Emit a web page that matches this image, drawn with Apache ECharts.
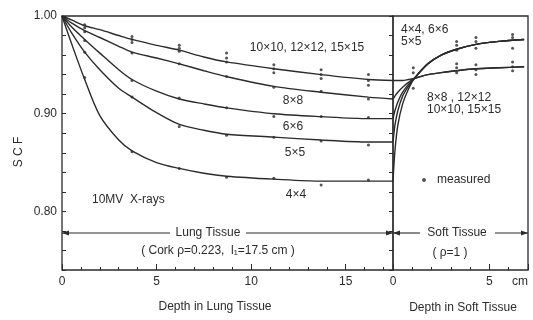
<!DOCTYPE html>
<html><head><meta charset="utf-8">
<script src="https://cdn.jsdelivr.net/npm/echarts@6/dist/echarts.min.js"></script>
<style>html,body{margin:0;padding:0;background:#fff}#c{width:533px;height:320px}</style>
</head><body><div id="c"></div>
<script>
// ---- Data ----
const lungDepth = [0, 0.5, 1.2, 2, 3, 3.7, 5, 6.2, 7.5, 8.7, 11.2, 13.7, 16.2, 17.5];
const lungLarge = [1.000, 0.996, 0.990, 0.986, 0.980, 0.976, 0.970, 0.965, 0.958, 0.953, 0.946, 0.940, 0.935, 0.934];
const lung8x8   = [1.000, 0.993, 0.985, 0.978, 0.969, 0.963, 0.957, 0.951, 0.944, 0.938, 0.928, 0.922, 0.917, 0.915];
const lung6x6   = [1.000, 0.989, 0.976, 0.962, 0.945, 0.935, 0.923, 0.915, 0.910, 0.906, 0.900, 0.897, 0.895, 0.895];
const lung5x5   = [1.000, 0.983, 0.963, 0.945, 0.926, 0.917, 0.901, 0.889, 0.883, 0.879, 0.876, 0.873, 0.871, 0.871];
const lung4x4   = [1.000, 0.972, 0.935, 0.898, 0.873, 0.862, 0.850, 0.844, 0.839, 0.836, 0.833, 0.831, 0.831, 0.831];

const softDepth = [0, 0.1, 0.25, 0.5, 0.8, 1.1, 1.8, 2.5, 3.3, 4.3, 5.5, 6.8];
const soft4x4   = [0.831, 0.862, 0.888, 0.910, 0.925, 0.936, 0.951, 0.960, 0.966, 0.971, 0.974, 0.976];
const soft5x5   = [0.871, 0.888, 0.903, 0.918, 0.928, 0.936, 0.951, 0.960, 0.966, 0.971, 0.974, 0.976];
const soft6x6   = [0.895, 0.903, 0.912, 0.922, 0.930, 0.936, 0.951, 0.960, 0.966, 0.971, 0.974, 0.976];
const soft8x8   = [0.915, 0.918, 0.922, 0.927, 0.932, 0.936, 0.940, 0.942, 0.944, 0.946, 0.947, 0.948];
const softLarge = [0.934, 0.934, 0.934, 0.934, 0.935, 0.936, 0.940, 0.942, 0.944, 0.946, 0.947, 0.948];

const lungMeasured = [
  [1.2,0.991],[1.2,0.988],[3.7,0.979],[3.7,0.976],[3.7,0.973],[6.2,0.970],[6.2,0.967],[6.2,0.964],
  [8.7,0.962],[8.7,0.957],[8.7,0.953],[11.2,0.950],[11.2,0.946],[11.2,0.942],[13.7,0.945],[13.7,0.940],[13.7,0.936],
  [16.2,0.940],[16.2,0.934],[16.2,0.929],
  [1.2,0.984],[3.7,0.962],[6.2,0.951],[8.7,0.938],[11.2,0.927],[13.7,0.923],[16.2,0.915],
  [1.2,0.975],[3.7,0.934],[6.2,0.916],[8.7,0.906],[11.2,0.897],[13.7,0.897],[16.2,0.896],
  [1.2,0.963],[3.7,0.917],[6.2,0.887],[8.7,0.878],[11.2,0.876],[13.7,0.872],[16.2,0.868],
  [1.2,0.937],[3.7,0.861],[6.2,0.844],[8.7,0.835],[11.2,0.834],[13.7,0.827],[16.2,0.832]
];
const softMeasured = [
  [1.05,0.947],[1.05,0.942],[1.05,0.926],
  [3.3,0.974],[3.3,0.970],[3.3,0.965],[3.3,0.951],[3.3,0.947],[3.3,0.942],
  [4.3,0.978],[4.3,0.974],[4.3,0.967],[4.3,0.950],[4.3,0.945],[4.3,0.940],
  [6.2,0.981],[6.2,0.978],[6.2,0.967],[6.2,0.953],[6.2,0.948],[6.2,0.944]
];

const yTickLabels = ['0.80', '0.90', '1.00'];
const lungTickLabels = ['0', '5', '10', '15'];
const softTickLabels = ['0', '5'];

// ---- Chart ----
const INK = '#2b2b2b';
const FONT = 'Liberation Sans, Arial, sans-serif';
const FS = 12;
const chart = echarts.init(document.getElementById('c'), null, {renderer: 'canvas'});

function pairs(xs, ys) { return xs.map((x, i) => [x, ys[i]]); }
function lineSeries(name, xi, yi, xs, ys) {
  return {name, type: 'line', xAxisIndex: xi, yAxisIndex: yi, data: pairs(xs, ys),
    smooth: 0.3, showSymbol: false, silent: true, z: 3,
    lineStyle: {color: INK, width: 1.4}};
}
const tickStyle = {color: INK, width: 1};
function xAx(grid, max, interval, len, labels) {
  return {type: 'value', gridIndex: grid, position: 'bottom', min: 0, max, interval,
    axisLine: {show: false}, splitLine: {show: false},
    axisTick: {show: true, inside: true, length: len, lineStyle: tickStyle},
    axisLabel: labels};
}
const yFmt = v => { const s = v.toFixed(2); return yTickLabels.includes(s) ? s : ''; };

const txt = (x, y, t, o) => Object.assign({type: 'text', x, y, silent: true,
  style: Object.assign({text: t, fill: INK, font: FS + 'px ' + FONT, textAlign: 'center', textVerticalAlign: 'middle'}, o || {})});
const seg = (x1, y1, x2, y2) => ({type: 'line', silent: true, shape: {x1, y1, x2, y2}, style: {stroke: INK, lineWidth: 1.1}});
const arrow = (x, y, dir) => ({type: 'polygon', silent: true,
  shape: {points: [[x, y], [x - dir * 7, y - 2.5], [x - dir * 7, y + 2.5]]}, style: {fill: INK}});

const AY = 233;
chart.setOption({
  animation: false,
  backgroundColor: '#fff',
  textStyle: {fontFamily: FONT},
  grid: [
    {left: 62, top: 16, width: 331, height: 254, show: true, borderColor: INK, borderWidth: 1.3, backgroundColor: 'transparent', outerBoundsMode: 'none', containLabel: false},
    {left: 393, top: 16, width: 135, height: 254, show: true, borderColor: INK, borderWidth: 1.3, backgroundColor: 'transparent', outerBoundsMode: 'none', containLabel: false}
  ],
  xAxis: [
    xAx(0, 17.5, 1, 3, {show: false}),
    xAx(0, 17.5, 5, 6, {show: true, color: INK, fontSize: FS, margin: 6, fontFamily: FONT,
      formatter: v => lungTickLabels.includes(String(v)) ? String(v) : ''}),
    xAx(1, 7, 1, 3, {show: false}),
    xAx(1, 7, 5, 6, {show: true, color: INK, fontSize: FS, margin: 6, fontFamily: FONT, showMaxLabel: true, alignMaxLabel: 'right',
      formatter: v => softTickLabels.includes(String(v)) ? String(v) : (v === 7 ? 'cm' : '')})
  ],
  yAxis: [
    {type: 'value', gridIndex: 0, position: 'left', min: 0.74, max: 1.0, interval: 0.02,
      axisLine: {show: false}, splitLine: {show: false},
      axisTick: {show: true, inside: true, length: 4, lineStyle: tickStyle},
      axisLabel: {color: INK, fontSize: FS, margin: 5, fontFamily: FONT, formatter: yFmt}},
    {type: 'value', gridIndex: 1, position: 'right', min: 0.74, max: 1.0, interval: 0.02,
      axisLine: {show: false}, splitLine: {show: false},
      axisTick: {show: true, inside: true, length: 4, lineStyle: tickStyle},
      axisLabel: {show: false}}
  ],
  legend: {data: ['measured'], left: 422, top: 174, padding: 0, itemWidth: 4, itemHeight: 4, icon: 'circle',
    selectedMode: false, textStyle: {color: INK, fontSize: FS, fontFamily: FONT, padding: [0, 0, 0, 6]}},
  series: [
    lineSeries('10×10, 12×12, 15×15', 1, 0, lungDepth, lungLarge),
    lineSeries('8×8', 1, 0, lungDepth, lung8x8),
    lineSeries('6×6', 1, 0, lungDepth, lung6x6),
    lineSeries('5×5', 1, 0, lungDepth, lung5x5),
    lineSeries('4×4', 1, 0, lungDepth, lung4x4),
    lineSeries('soft 4×4', 3, 1, softDepth, soft4x4),
    lineSeries('soft 5×5', 3, 1, softDepth, soft5x5),
    lineSeries('soft 6×6', 3, 1, softDepth, soft6x6),
    lineSeries('soft 8×8', 3, 1, softDepth, soft8x8),
    lineSeries('soft large', 3, 1, softDepth, softLarge),
    {name: 'measured', type: 'scatter', xAxisIndex: 1, yAxisIndex: 0, data: lungMeasured,
      symbol: 'circle', symbolSize: 3, itemStyle: {color: INK}, silent: true, z: 4},
    {name: 'measured', type: 'scatter', xAxisIndex: 3, yAxisIndex: 1, data: softMeasured,
      symbol: 'circle', symbolSize: 3, itemStyle: {color: INK}, silent: true, z: 4}
  ],
  graphic: [
    txt(307, 48, '10×10, 12×12, 15×15'),
    txt(293, 101, '8×8'),
    txt(293, 127, '6×6'),
    txt(295, 153, '5×5'),
    txt(296, 195, '4×4'),
    txt(92, 200, '10MV  X-rays', {textAlign: 'left'}),
    txt(401, 30, '4×4, 6×6', {textAlign: 'left'}),
    txt(401, 42, '5×5', {textAlign: 'left'}),
    txt(427, 98, '8×8 , 12×12', {textAlign: 'left'}),
    txt(427, 110, '10×10, 15×15', {textAlign: 'left'}),
    // Lung tissue arrow
    seg(62, AY, 170, AY), seg(246, AY, 393, AY), arrow(62, AY, -1), arrow(393, AY, 1),
    txt(208, AY, 'Lung Tissue'),
    txt(218, 251, '( Cork ρ=0.223,  l₁=17.5 cm )'),
    // Soft tissue arrow
    seg(393, AY, 420, AY), seg(495, AY, 528, AY), arrow(393, AY, -1), arrow(528, AY, 1),
    txt(457, AY, 'Soft Tissue'),
    txt(450, 253, '( ρ=1 )'),
    txt(215, 307, 'Depth in Lung Tissue'),
    txt(463, 308, 'Depth in Soft Tissue'),
    {type: 'text', x: 19, y: 152, rotation: Math.PI / 2, silent: true,
      style: {text: 'S C F', fill: INK, font: FS + 'px ' + FONT, textAlign: 'center', textVerticalAlign: 'middle'}}
  ]
});
</script>
</body></html>
